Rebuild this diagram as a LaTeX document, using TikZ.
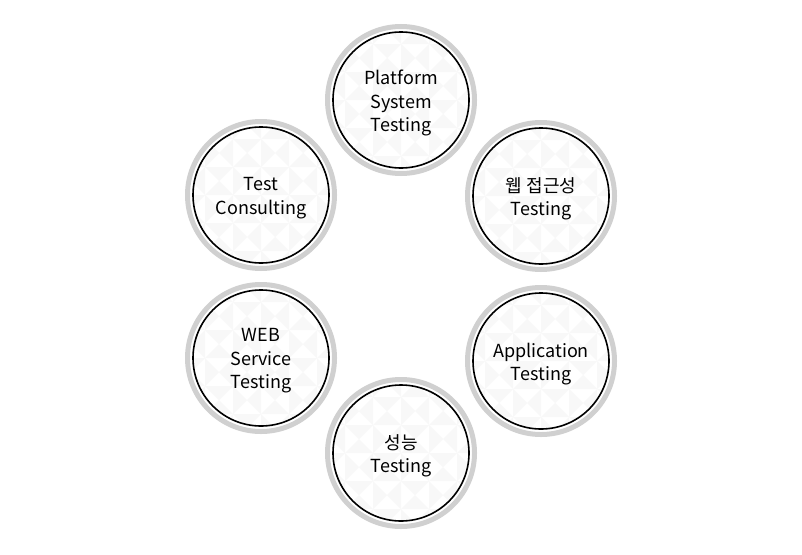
\documentclass[tikz,border=0pt]{standalone}
\usepackage{fontspec}
\setmainfont{Noto Sans CJK KR}
\usetikzlibrary{backgrounds}
\definecolor{ringgray}{HTML}{D0D0D0}
\definecolor{pattgray}{HTML}{F8F8F8}
\tikzset{
  ring/.style={circle, minimum size=147pt, inner sep=0pt, draw=ringgray, line width=5pt, fill=white},
  inner/.style={draw=black, line width=1.6pt},
  label/.style={align=center, font=\fontsize{18}{23.5}\selectfont, text=black, yshift=-3pt},
  link/.style={draw=ringgray, line width=5pt}
}
\newcommand{\mypatt}[2]{%
  \begin{scope}
    \clip (#1,#2) circle (67);
    \foreach \i in {-3,...,2}{\foreach \j in {-3,...,2}{
      \pgfmathtruncatemacro{\pp}{mod(\i+\j+6,2)}
      \begin{scope}[shift={({#1+\i*28},{#2+\j*28})}]
        \ifnum\pp=0
          \fill[pattgray] (0,0) -- (14,14) -- (0,28) -- cycle;
          \fill[pattgray] (28,0) -- (14,14) -- (28,28) -- cycle;
        \else
          \fill[pattgray] (0,0) -- (14,14) -- (28,0) -- cycle;
          \fill[pattgray] (0,28) -- (14,14) -- (28,28) -- cycle;
        \fi
      \end{scope}
    }}
  \end{scope}}
\newcommand{\mycirc}[4]{%
  \node[ring] (#1) at (#2,#3) {};
  \mypatt{#2}{#3}
  \draw[inner] (#2,#3) circle (68);
  \node[label] (#1t) at (#2,#3) {#4};}
\begin{document}
\begin{tikzpicture}[x=1pt,y=-1pt]
\useasboundingbox (0,0) rectangle (802,554);
\fill[white] (0,0) rectangle (802,554);
\mycirc{pa}{401}{100}{Platform\\System\\Testing}
\mycirc{pb}{541}{196}{웹 접근성\\Testing}
\mycirc{pc}{541}{361}{Application\\Testing}
\mycirc{pd}{401}{453}{성능\\Testing}
\mycirc{pe}{261}{358}{WEB\\Service\\Testing}
\mycirc{pf}{261}{195}{Test\\Consulting}
\begin{scope}[on background layer]
  \draw[link] (pa) -- (pb);
  \draw[link] (pb) -- (pc);
  \draw[link] (pc) -- (pd);
  \draw[link] (pd) -- (pe);
  \draw[link] (pe) -- (pf);
  \draw[link] (pf) -- (pa);
\end{scope}
\end{tikzpicture}
\end{document}
